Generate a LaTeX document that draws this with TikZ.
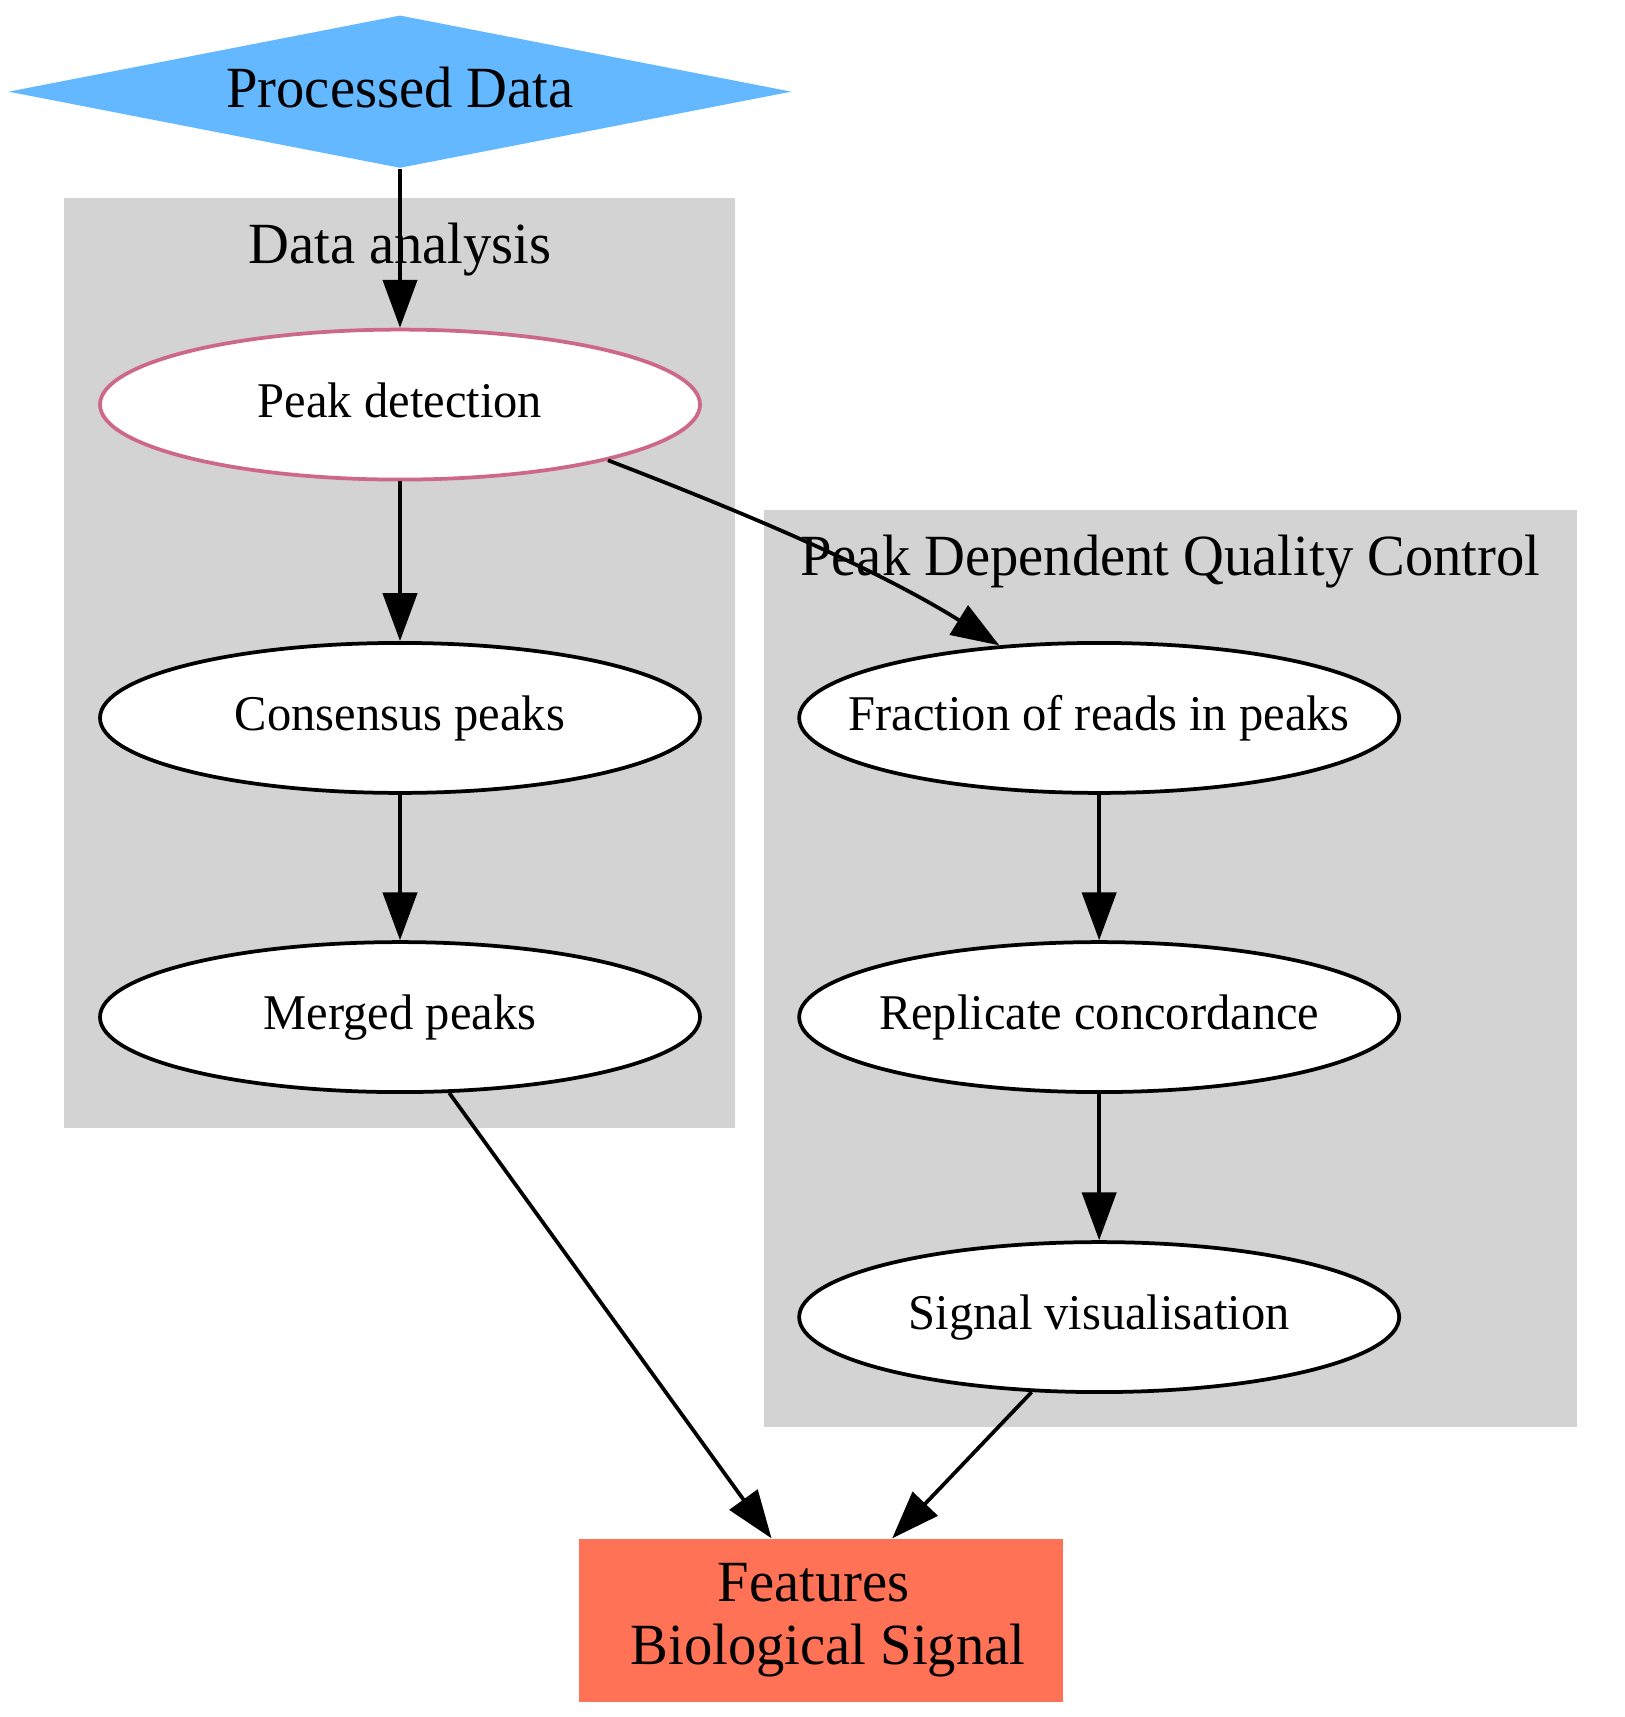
\documentclass[tikz,border=0pt]{standalone}
\usepackage{fontspec}
\setmainfont[FakeStretch=0.97]{Liberation Serif}
\usetikzlibrary{arrows.meta,shapes.geometric}
\definecolor{clustergrey}{HTML}{D3D3D3}
\definecolor{datablue}{HTML}{63B8FF}
\definecolor{featcoral}{HTML}{FF7256}
\definecolor{peakpink}{HTML}{CD6889}
\tikzset{
  stepnode/.style={ellipse, draw=black, fill=white, line width=0.9pt,
    minimum width=144pt, minimum height=36pt, inner xsep=-16pt, inner ysep=0pt,
    font=\fontsize{12}{14}\selectfont, text height=8.5pt, text depth=2.5pt},
  clusterlabel/.style={anchor=base, font=\fontsize{14}{16}\selectfont},
  flow/.style={-{Triangle[length=11.5pt,width=8.2pt]}, line width=0.9pt},
}
\begin{document}
\begin{tikzpicture}[x=1pt,y=1pt]
\useasboundingbox (0,0) rectangle (390,-412.08);
% clusters
\fill[clustergrey] (15.4,-47.5) rectangle (176.4,-270.7);
\fill[clustergrey] (183.4,-122.4) rectangle (378.4,-342.4);
\node[clusterlabel] (analysislabel) at (96,-63.2) {Data analysis};
\node[clusterlabel] (qclabel) at (280.9,-138) {Peak Dependent Quality Control};
% nodes
\node[diamond, aspect=5.12, fill=datablue, inner sep=0pt, minimum width=188pt, minimum height=36.7pt,
  font=\fontsize{14}{16}\selectfont, text height=10pt, text depth=2.5pt] (processed) at (96,-22) {Processed Data};
\node[stepnode, draw=peakpink] (peak) at (96,-97.1) {Peak detection};
\node[stepnode] (consensus) at (96,-172.3) {Consensus peaks};
\node[stepnode] (merged) at (96,-244.1) {Merged peaks};
\node[stepnode] (frip) at (263.8,-172.3) {Fraction of reads in peaks};
\node[stepnode] (replicate) at (263.8,-244.1) {Replicate concordance};
\node[stepnode] (signal) at (263.8,-316.1) {Signal visualisation};
\node[rectangle, fill=featcoral, minimum width=116.2pt, minimum height=39pt, align=center,
  font=\fontsize{14}{15}\selectfont] (features) at (197,-388.9)
  {Features\makebox[3.5pt]{}\\\makebox[3.5pt]{}Biological Signal};
% edges
\draw[flow] (processed.south) -- (peak.north);
\draw[flow] (peak) -- (consensus);
\draw[flow] (consensus) -- (merged);
\draw[flow] (peak.-15) .. controls +(-21:35) and +(148:35) .. (frip.144.5);
\draw[flow] (frip) -- (replicate);
\draw[flow] (replicate) -- (signal);
\draw[flow] (merged.-57) -- (features.121.6);
\draw[flow] (signal.-132) -- (features.49.4);
\end{tikzpicture}
\end{document}
